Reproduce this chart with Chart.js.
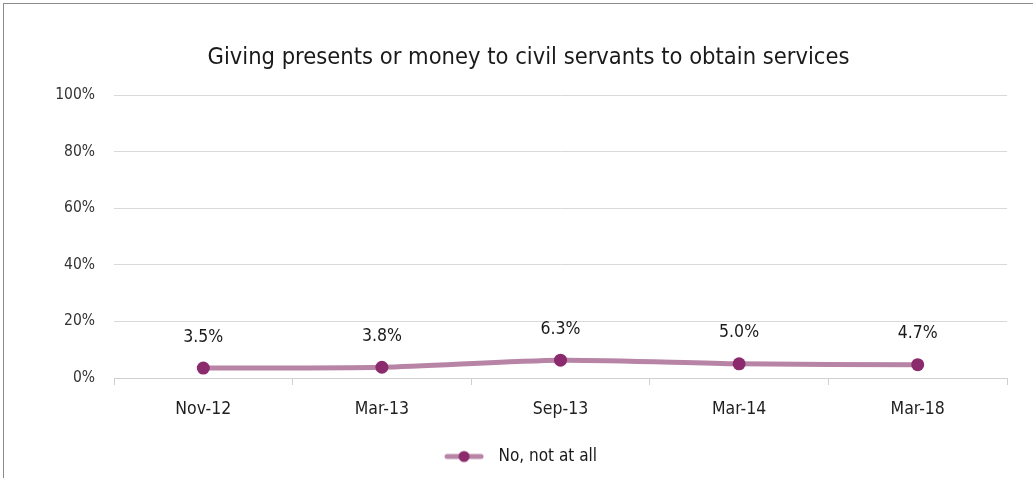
<!DOCTYPE html>
<html>
<head>
<meta charset="utf-8">
<script src="https://cdn.jsdelivr.net/npm/chart.js@4.4.1/dist/chart.umd.min.js"></script>
<style>
	html, body { margin: 0; padding: 0; background: #fff; overflow: hidden; }
	#marc { position: absolute; left: 3px; top: 3px; width: 1060px; height: 520px; border: 1px solid #8c8c8c; }
	#contenidor { position: absolute; left: 0; top: 0; width: 1033px; height: 478px; }
</style>
</head>
<body>
<div id="marc"></div>
<div id="contenidor"><canvas id="grafic"></canvas></div>
<script>
// Dades de la enquesta
let titol = 'Giving presents or money to civil servants to obtain services';
let etiquetes = ['Nov-12', 'Mar-13', 'Sep-13', 'Mar-14', 'Mar-18'];
let valors = [3.5, 3.8, 6.3, 5.0, 4.7];
let nomSerie = 'No, not at all';
let ticksY = [0, 20, 40, 60, 80, 100];

const font = "'Liberation Sans Narrow', 'DejaVu Sans Condensed', sans-serif";
const colorLinia = '#b884a6';
const colorPunt = '#8b2a6c';

// icona de la llegenda: linia amb punt al mig (amb marge a la dreta)
function iconaLlegenda() {
	let c = document.createElement('canvas');
	c.width = 46; c.height = 14;
	let ctx = c.getContext('2d');
	ctx.strokeStyle = colorLinia;
	ctx.lineWidth = 5;
	ctx.lineCap = 'round';
	ctx.beginPath();
	ctx.moveTo(3, 7);
	ctx.lineTo(37, 7);
	ctx.stroke();
	ctx.fillStyle = colorPunt;
	ctx.beginPath();
	ctx.arc(20, 7, 5.5, 0, Math.PI * 2);
	ctx.fill();
	return c;
}

// etiquetes de valor damunt de cada punt
const etiquetesValor = {
	id: 'etiquetesValor',
	afterDatasetsDraw(chart) {
		let ctx = chart.ctx;
		let meta = chart.getDatasetMeta(0);
		ctx.save();
		ctx.font = '17.5px ' + font;
		ctx.fillStyle = '#1a1a1a';
		ctx.textAlign = 'center';
		ctx.textBaseline = 'middle';
		meta.data.forEach((punt, i) => {
			ctx.fillText(valors[i].toFixed(1) + '%', punt.x, punt.y - 31);
		});
		ctx.restore();
	}
};

// mou una mica la llegenda cap a l'esquerra
const movLlegenda = {
	id: 'movLlegenda',
	afterLayout(chart) {
		chart.legend.left -= 8;
		chart.legend.right -= 8;
	}
};

const config = {
	type: 'line',
	data: {
		labels: etiquetes,
		datasets: [{
			label: nomSerie,
			data: valors,
			borderColor: colorLinia,
			borderWidth: 5,
			tension: 0.25,
			pointRadius: 6.5,
			pointHoverRadius: 6.5,
			pointBackgroundColor: colorPunt,
			pointBorderColor: colorPunt,
			pointBorderWidth: 0,
			pointStyle: 'circle'
		}]
	},
	options: {
		responsive: true,
		maintainAspectRatio: false,
		animation: false,
		// el marge esquerre centra el titol dins del marc
		layout: { padding: { top: 31, right: 26, bottom: 3, left: 50 } },
		plugins: {
			title: {
				display: true,
				text: titol,
				color: '#1a1a1a',
				font: { family: font, size: 23.5, weight: 'normal' },
				padding: { top: 13, bottom: 23 }
			},
			legend: {
				position: 'bottom',
				labels: {
					usePointStyle: true,
					pointStyle: iconaLlegenda(),
					pointStyleWidth: 46,
					color: '#1a1a1a',
					font: { family: font, size: 17 },
					padding: 14
				}
			},
			tooltip: { enabled: false }
		},
		scales: {
			x: {
				offset: true,
				grid: {
					offset: true,
					drawOnChartArea: false,
					tickLength: 7,
					color: '#d0d0d0'
				},
				border: { color: '#d0d0d0' },
				ticks: {
					color: '#1f1f1f',
					font: { family: font, size: 17.5 },
					padding: 14
				}
			},
			y: {
				min: 0,
				max: 100,
				afterFit: (scale) => { scale.width = 64; },
				afterBuildTicks: (scale) => { scale.ticks = ticksY.map(v => ({ value: v })); },
				grid: { color: '#d9d9d9', drawTicks: false },
				border: { display: false },
				ticks: {
					color: '#333',
					font: { family: font, size: 15.5 },
					padding: 19,
					callback: (v) => v + '%'
				}
			}
		}
	},
	plugins: [etiquetesValor, movLlegenda]
};

const grafic = new Chart(document.getElementById('grafic'), config);
</script>
</body>
</html>
